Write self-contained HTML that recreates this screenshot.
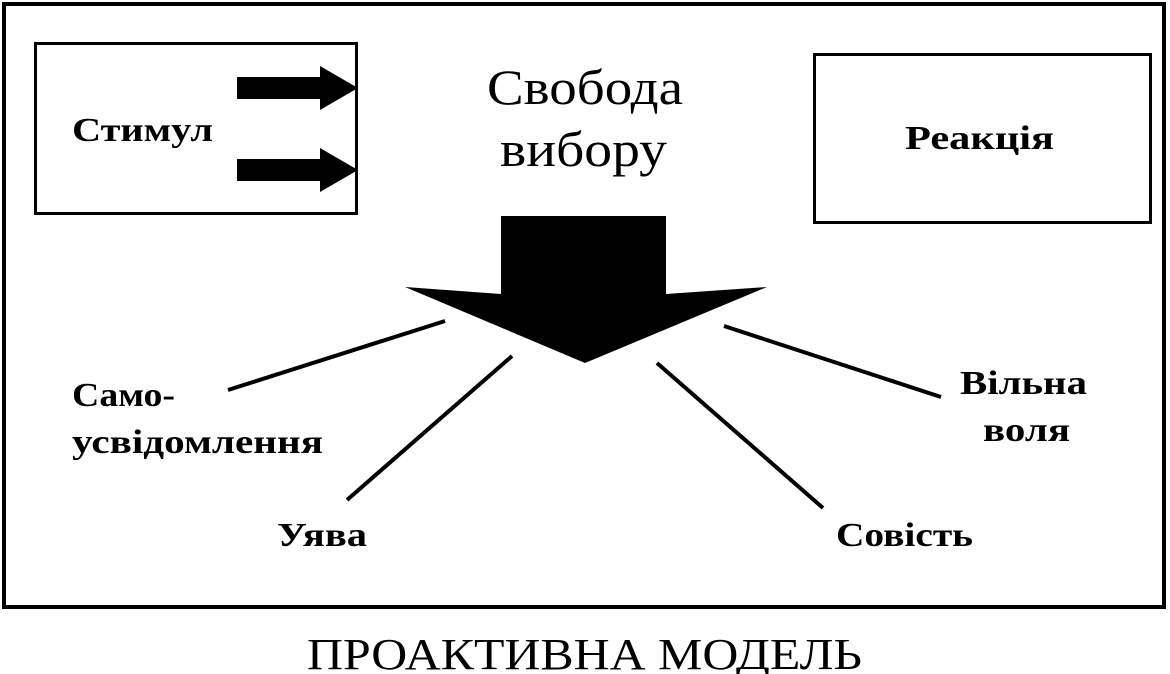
<!DOCTYPE html>
<html><head><meta charset="utf-8"><style>
html,body{margin:0;padding:0;background:#fff;}
svg{display:block;}
text{font-family:"Liberation Serif",serif;fill:#000;}
</style></head><body>
<svg width="1170" height="674" viewBox="0 0 1170 674" xmlns="http://www.w3.org/2000/svg">
<rect x="4" y="4" width="1160" height="603" fill="none" stroke="#000" stroke-width="4"/>
<rect x="35.5" y="43.5" width="321" height="170" fill="none" stroke="#000" stroke-width="3"/>
<rect x="814.5" y="54.5" width="336" height="168" fill="none" stroke="#000" stroke-width="3"/>
<polygon points="237,77 320,77 320,66 358,88 320,110 320,99 237,99" fill="#000"/>
<polygon points="237,159 320,159 320,148 358,170 320,192 320,181 237,181" fill="#000"/>
<polygon points="501,216 666,216 666,294 767,287 585,363 405,287 501,294" fill="#000"/>
<g stroke="#000" stroke-width="4">
<line x1="228" y1="390" x2="445" y2="321"/>
<line x1="347" y1="500" x2="512" y2="356"/>
<line x1="657" y1="363" x2="823" y2="508"/>
<line x1="724" y1="326" x2="941" y2="397"/>
</g>
<g font-size="34" font-weight="bold" lengthAdjust="spacingAndGlyphs">
<text x="72" y="141" textLength="141" lengthAdjust="spacingAndGlyphs">Стимул</text>
<text x="905" y="149" textLength="149" lengthAdjust="spacingAndGlyphs">Реакція</text>
<text x="72" y="406" textLength="103" lengthAdjust="spacingAndGlyphs">Само-</text>
<text x="72" y="453" textLength="251" lengthAdjust="spacingAndGlyphs">усвідомлення</text>
<text x="277" y="546" textLength="90" lengthAdjust="spacingAndGlyphs">Уява</text>
<text x="836" y="546" textLength="137" lengthAdjust="spacingAndGlyphs">Совість</text>
<text x="960" y="394" textLength="127" lengthAdjust="spacingAndGlyphs">Вільна</text>
<text x="983" y="441" textLength="87" lengthAdjust="spacingAndGlyphs">воля</text>
</g>
<text x="487" y="104" font-size="50" textLength="196" lengthAdjust="spacingAndGlyphs">Свобода</text>
<text x="500" y="166" font-size="50" textLength="167" lengthAdjust="spacingAndGlyphs">вибору</text>
<text x="307" y="669" font-size="44" textLength="555" lengthAdjust="spacingAndGlyphs">ПРОАКТИВНА МОДЕЛЬ</text>
</svg>
</body></html>
